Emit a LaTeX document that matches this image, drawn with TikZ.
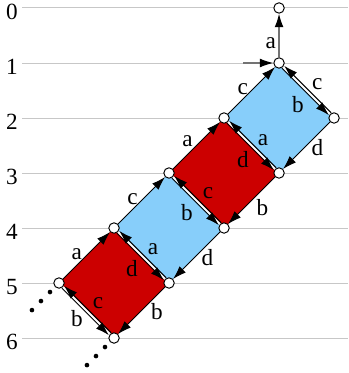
\documentclass[tikz,border=0pt]{standalone}
\usepackage{fontspec}
\setmainfont{Liberation Serif}
\usetikzlibrary{arrows.meta, backgrounds}

\definecolor{skyfill}{RGB}{135,206,250}
\definecolor{redfill}{RGB}{204,0,0}

\begin{document}
\begin{tikzpicture}[
    >={Latex[length=7pt,width=4.6pt]},
    font=\fontsize{12}{14}\selectfont,
    vertex/.style={circle, draw=black, fill=white, line width=0.5pt,
        minimum size=5.4pt, inner sep=0pt},
    level/.style={draw=black!22, line width=0.5pt},
    edge/.style={->, draw=black, line width=0.5pt},
    feed/.style={-{Latex[length=7pt,width=4.6pt,black]}, draw=black!55, line width=0.6pt},
    upl/.style={transform canvas={shift={(0.6pt,0.6pt)}}},
    dnr/.style={transform canvas={shift={(-0.6pt,-0.6pt)}}},
    gap/.style={draw=white, line width=1pt},
    lab/.style={inner sep=0pt}
]
\useasboundingbox (-0.073,0.145) rectangle (6.254,-6.636);

% Vertices
\node[vertex] (p50) at (5,0) {};
\node[vertex] (p51) at (5,-1) {};
\node[vertex] (p42) at (4,-2) {};
\node[vertex] (p62) at (6,-2) {};
\node[vertex] (p33) at (3,-3) {};
\node[vertex] (p53) at (5,-3) {};
\node[vertex] (p24) at (2,-4) {};
\node[vertex] (p44) at (4,-4) {};
\node[vertex] (p15) at (1,-5) {};
\node[vertex] (p35) at (3,-5) {};
\node[vertex] (p26) at (2,-6) {};
\coordinate (in) at (4.35,-1);

% Levels and squares
\begin{scope}[on background layer]
\foreach \i in {0,...,6} {
    \draw[level] (0.33,-\i) -- (6.254,-\i);
    \node (lvl\i) at (0.145,-\i-0.064) {\i};
}
\fill[skyfill] (p51.center) -- (p62.center) -- (p53.center) -- (p42.center) -- cycle;
\fill[redfill] (p42.center) -- (p53.center) -- (p44.center) -- (p33.center) -- cycle;
\fill[skyfill] (p33.center) -- (p44.center) -- (p35.center) -- (p24.center) -- cycle;
\fill[redfill] (p24.center) -- (p35.center) -- (p26.center) -- (p15.center) -- cycle;
\draw[gap] (p51.center) -- (p62.center);
\draw[gap] (p42.center) -- (p53.center);
\draw[gap] (p33.center) -- (p44.center);
\draw[gap] (p24.center) -- (p35.center);
\draw[gap] (p15.center) -- (p26.center);
\end{scope}

% Top
\draw[feed] (p51) -- (p50) node[lab, pos=0.33, xshift=-4.3pt] {a};
\draw[feed] (in) -- (p51);

% Blue square (top)
\draw[edge] (p42) -- (p51) node[lab, midway, xshift=-4.6pt, yshift=0.8pt] {c};
\draw[edge, dnr] (p51) -- (p62) node[lab, midway, xshift=-3.9pt, yshift=-6.5pt] {b};
\draw[edge, upl] (p62) -- (p51) node[lab, midway, xshift=5pt, yshift=2.8pt] {c};
\draw[edge] (p62) -- (p53) node[lab, midway, xshift=5.6pt, yshift=-1.3pt] {d};
\draw[edge, upl] (p53) -- (p42) node[lab, midway, xshift=5.4pt, yshift=2.3pt] {a};

% Red square (upper)
\draw[edge] (p33) -- (p42) node[lab, midway, xshift=-4.6pt, yshift=2.3pt] {a};
\draw[edge, dnr] (p42) -- (p53) node[lab, midway, xshift=-3.9pt, yshift=-6.5pt] {d};
\draw[edge] (p53) -- (p44) node[lab, midway, xshift=5.6pt, yshift=-3.4pt] {b};
\draw[edge, upl] (p44) -- (p33) node[lab, midway, xshift=5.4pt, yshift=3.4pt] {c};

% Blue square (lower)
\draw[edge] (p24) -- (p33) node[lab, midway, xshift=-4.6pt, yshift=0.8pt] {c};
\draw[edge, dnr] (p33) -- (p44) node[lab, midway, xshift=-4.4pt, yshift=-5.4pt] {b};
\draw[edge] (p44) -- (p35) node[lab, midway, xshift=5.6pt, yshift=-1.3pt] {d};
\draw[edge, upl] (p35) -- (p24) node[lab, midway, xshift=5.4pt, yshift=2.8pt] {a};

% Red square (lower)
\draw[edge] (p15) -- (p24) node[lab, midway, xshift=-5pt, yshift=0.8pt] {a};
\draw[edge, dnr] (p24) -- (p35) node[lab, midway, xshift=-4.4pt, yshift=-5.9pt] {d};
\draw[edge] (p35) -- (p26) node[lab, midway, xshift=8pt, yshift=-0.8pt] {b};
\draw[edge, upl] (p26) -- (p15) node[lab, midway, xshift=5.4pt, yshift=3.4pt] {c};
\draw[edge, dnr] (p15) -- (p26) node[lab, midway, xshift=-4.4pt, yshift=-3.4pt] {b};

% Continuation dots
\foreach \t in {1,2,3} {
    \fill (1-0.164*\t,-5-0.164*\t) circle (1.2pt);
    \fill (2-0.164*\t,-6-0.164*\t) circle (1.2pt);
}

\end{tikzpicture}
\end{document}
